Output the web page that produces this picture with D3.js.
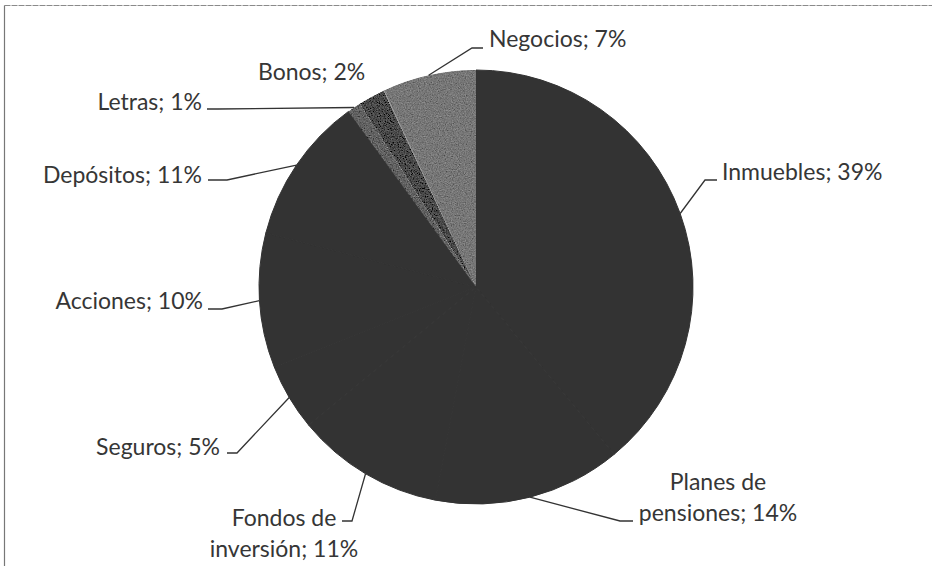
<!DOCTYPE html>
<html>
<head>
<meta charset="utf-8">
<script src="https://cdn.jsdelivr.net/npm/d3@7"></script>
<style>
  body { margin: 0; background: #fff; }
  text { font-family: Lato, "Open Sans", sans-serif; font-size: 23px; fill: #363636; }
</style>
</head>
<body>
<div class="container"></div>
<script>
// data (percent of the total)
const categories = ["Inmuebles", "Planes de pensiones", "Fondos de inversión", "Seguros",
                    "Acciones", "Depósitos", "Letras", "Bonos", "Negocios"];
const values = [39, 14, 11, 5, 10, 11, 1, 2, 7];

// slice fills: the big ones are all the same dark grey, the small ones are speckled greys
const sliceFill = ["#333", "#333", "#333", "#333", "#333", "#333", "#626262", "#4a4a4a", "#777"];
const grainy = [false, false, false, false, false, false, true, true, true];

// where each label sits (page coords) - placed by hand like in the original
// x,y = text anchor / first baseline, end = leader end, elbow = leader bend
const labelLayout = [
  {x: 722, y: 180, anchor: "start",  end: [717, 180], elbow: [705, 180]},
  {x: 718, y: 490, anchor: "middle", end: [633, 521], elbow: [620, 521], breakAfter: "de"},
  {x: 284, y: 526, anchor: "middle", end: [342, 521], elbow: [352, 521], breakAfter: "de"},
  {x: 220, y: 455, anchor: "end",    end: [227, 453], elbow: [237, 453]},
  {x: 203, y: 309, anchor: "end",    end: [208, 309], elbow: [222, 309]},
  {x: 202, y: 183, anchor: "end",    end: [208, 180], elbow: [227, 180]},
  {x: 202, y: 110, anchor: "end",    end: [207, 109], elbow: [218, 109]},
  {x: 258, y: 80,  anchor: "start",  end: null},
  {x: 489, y: 47,  anchor: "start",  end: [483, 48], elbow: [472, 48]}
];

const width = 932, height = 566;
const cx = 476, cy = 287, radius = 217;
const lineHeight = 31;

const svg = d3.select(".container")
  .append("svg")
  .attr("width", width)
  .attr("height", height);

// speckle texture for the small slices
const defs = svg.append("defs");
const f = defs.append("filter").attr("id", "grain")
  .attr("x", 0).attr("y", 0).attr("width", 1).attr("height", 1);
f.append("feTurbulence").attr("type", "fractalNoise").attr("baseFrequency", 0.85)
  .attr("numOctaves", 2).attr("seed", 4).attr("result", "noise");
f.append("feColorMatrix").attr("in", "noise").attr("type", "matrix")
  .attr("values", "0.33 0.33 0.33 0 0  0.33 0.33 0.33 0 0  0.33 0.33 0.33 0 0  0 0 0 0 1")
  .attr("result", "gray");
f.append("feComposite").attr("in", "SourceGraphic").attr("in2", "gray")
  .attr("operator", "arithmetic").attr("k1", 0).attr("k2", 1).attr("k3", 0.5).attr("k4", -0.25)
  .attr("result", "mix");
f.append("feComposite").attr("in", "mix").attr("in2", "SourceGraphic").attr("operator", "in");

// frame (only top and left edges show in the original)
svg.append("line").attr("x1", 4.5).attr("y1", 5.5).attr("x2", width).attr("y2", 5.5)
  .attr("stroke", "#8a8a8a").attr("stroke-width", 1.2).attr("stroke-dasharray", "6,1");
svg.append("line").attr("x1", 4.5).attr("y1", 5.5).attr("x2", 4.5).attr("y2", height)
  .attr("stroke", "#777").attr("stroke-width", 1.2);

const data = categories.map((c, i) => ({name: c, value: values[i], i: i}));

const pie = d3.pie().sort(null).value(d => d.value);
const arcs = pie(data);

const arc = d3.arc().innerRadius(0).outerRadius(radius);
const edge = d3.arc().innerRadius(radius).outerRadius(radius);

const g = svg.append("g").attr("transform", "translate(" + cx + "," + cy + ")");

// same-colour stroke hides the hairline seams between the dark slices
g.selectAll(".slice")
  .data(arcs)
  .enter()
    .append("path")
    .attr("class", "slice")
    .attr("d", arc)
    .attr("fill", d => sliceFill[d.data.i])
    .attr("stroke", d => grainy[d.data.i] ? "none" : sliceFill[d.data.i])
    .attr("stroke-width", 1)
    .attr("stroke-linejoin", "round")
    .attr("filter", d => grainy[d.data.i] ? "url(#grain)" : null);

// thin light seam between Bonos and Negocios like the scan shows
g.append("path")
  .attr("d", arc({startAngle: arcs[8].startAngle, endAngle: arcs[8].startAngle + 0.004}))
  .attr("fill", "#a0a0a0");

// leader lines
arcs.forEach(d => {
  const L = labelLayout[d.data.i];
  if (!L.end) return;
  const p = edge.centroid(d);
  const pts = [[p[0] + cx, p[1] + cy], L.elbow, L.end];
  svg.append("path")
    .attr("d", d3.line()(pts))
    .attr("fill", "none")
    .attr("stroke", "#333")
    .attr("stroke-width", 1.3);
});

// labels
arcs.forEach(d => {
  const L = labelLayout[d.data.i];
  const full = d.data.name + "; " + d.data.value + "%";
  let lines = [full];
  if (L.breakAfter) {
    const k = full.indexOf(" " + L.breakAfter + " ") + L.breakAfter.length + 1;
    lines = [full.slice(0, k), full.slice(k + 1)];
  }
  const t = svg.append("text")
    .attr("x", L.x)
    .attr("y", L.y)
    .attr("text-anchor", L.anchor);
  lines.forEach((s, j) => {
    t.append("tspan").attr("x", L.x).attr("y", L.y + j * lineHeight).text(s);
  });
});
</script>
</body>
</html>
